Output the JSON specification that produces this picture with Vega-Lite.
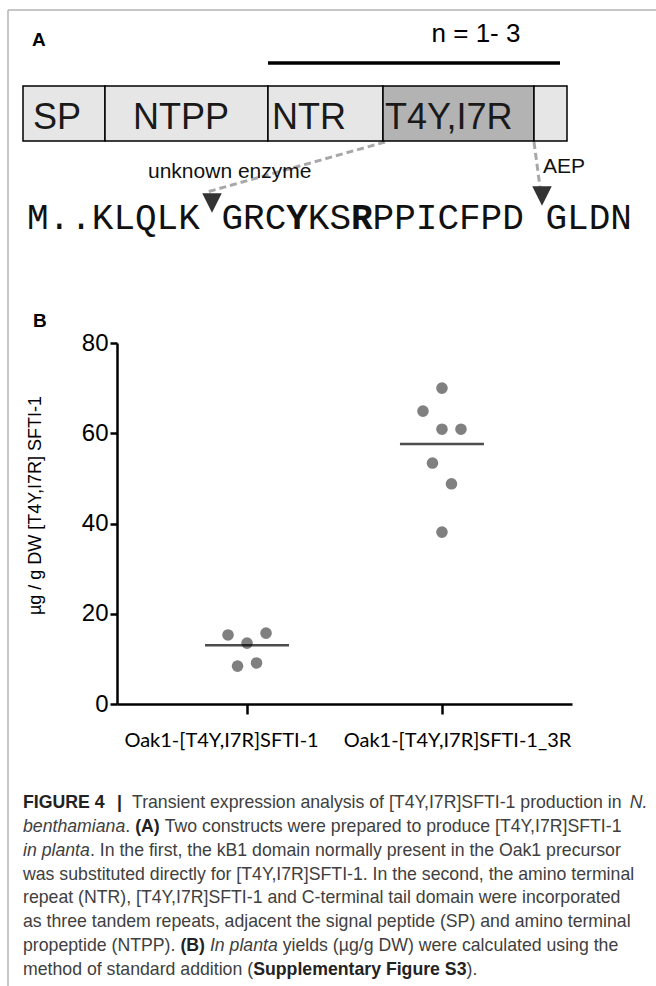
{
"$schema":"https://vega.github.io/schema/vega-lite/v6.json",
"width":656,"height":986,"padding":0,"autosize":{"type":"none"},
"background":"#ffffff",
"config":{"view":{"stroke":null},"font":"Liberation Sans"},
"layer":[
{"layer":[
 {"data":{"values":[{"x":8,"y":10,"x2":656,"y2":10},{"x":8,"y":10,"x2":8,"y2":986}]},
  "mark":{"type":"rule","color":"#b5b5b5","strokeWidth":1.5},
  "encoding":{"x":{"field":"x","type":"quantitative","scale":{"domain":[0,656],"range":[0,656],"nice":false,"zero":false},"axis":null},
   "y":{"field":"y","type":"quantitative","scale":{"domain":[0,986],"range":[0,986],"nice":false,"zero":false},"axis":null},
   "x2":{"field":"x2"},"y2":{"field":"y2"}}},
 {"data":{"values":[{"x":268,"y":63,"x2":560,"y2":63}]},
  "mark":{"type":"rule","color":"#000000","strokeWidth":3.5},
  "encoding":{"x":{"field":"x","type":"quantitative"},"y":{"field":"y","type":"quantitative"},"x2":{"field":"x2"},"y2":{"field":"y2"}}},
 {"data":{"values":[{"x":385,"y":142,"x2":207,"y2":192},{"x":534,"y":142,"x2":540,"y2":187}]},
  "mark":{"type":"rule","color":"#a8a8a8","strokeWidth":3,"strokeDash":[7,4]},
  "encoding":{"x":{"field":"x","type":"quantitative"},"y":{"field":"y","type":"quantitative"},"x2":{"field":"x2"},"y2":{"field":"y2"}}},
 {"data":{"values":[{"part":"SP","x":23,"x2":105},{"part":"NTPP","x":105,"x2":268},{"part":"NTR","x":268,"x2":383},{"part":"T4Y,I7R","x":383,"x2":534},{"part":"tail","x":534,"x2":567}]},
  "mark":{"type":"rect","stroke":"#000000","strokeWidth":1.5},
  "encoding":{"x":{"field":"x","type":"quantitative"},"x2":{"field":"x2"},
   "y":{"datum":86,"type":"quantitative"},"y2":{"datum":141},
   "fill":{"field":"part","type":"nominal","scale":{"domain":["SP","NTPP","NTR","T4Y,I7R","tail"],"range":["#e6e6e6","#e6e6e6","#e6e6e6","#b3b3b3","#e6e6e6"]},"legend":null}}},
 {"data":{"values":[{"label":"SP","x":33},{"label":"NTPP","x":133},{"label":"NTR","x":272},{"label":"T4Y,I7R","x":385}]},
  "mark":{"type":"text","align":"left","baseline":"middle","font":"Liberation Sans","fontSize":36,"color":"#1a1a1a"},
  "encoding":{"x":{"field":"x","type":"quantitative"},"y":{"datum":118,"type":"quantitative"},"text":{"field":"label"}}},
 {"data":{"values":[{"label":"A","x":32,"y":40},{"label":"B","x":33,"y":321}]},
  "mark":{"type":"text","align":"left","baseline":"middle","font":"Liberation Sans","fontSize":19,"fontWeight":"bold","color":"#000000"},
  "encoding":{"x":{"field":"x","type":"quantitative"},"y":{"field":"y","type":"quantitative"},"text":{"field":"label"}}},
 {"data":{"values":[{"label":"n = 1- 3","x":476,"y":34}]},
  "mark":{"type":"text","align":"center","baseline":"middle","font":"Liberation Sans","fontSize":26,"color":"#000000"},
  "encoding":{"x":{"field":"x","type":"quantitative"},"y":{"field":"y","type":"quantitative"},"text":{"field":"label"}}},
 {"data":{"values":[{"label":"unknown enzyme","x":148,"y":172},{"label":"AEP","x":543,"y":167}]},
  "mark":{"type":"text","align":"left","baseline":"middle","font":"Liberation Sans","fontSize":21,"color":"#111111"},
  "encoding":{"x":{"field":"x","type":"quantitative"},"y":{"field":"y","type":"quantitative"},"text":{"field":"label"}}},
 {"data":{"values":[{"site":"unknown enzyme","x":212,"y":203},{"site":"AEP","x":542,"y":196}]},
  "mark":{"type":"point","filled":true,"shape":"M-1,-1L1,-1L0,1Z","size":380,"color":"#333333","opacity":1},
  "encoding":{"x":{"field":"x","type":"quantitative"},"y":{"field":"y","type":"quantitative"}}},
 {"data":{"values":[{"seg":"M..KLQLK GRC","x":27,"emphasis":"plain"},{"seg":"Y","x":286.2,"emphasis":"bold"},{"seg":"KS","x":307.8,"emphasis":"plain"},{"seg":"R","x":351,"emphasis":"bold"},{"seg":"PPICFPD GLDN","x":372.6,"emphasis":"plain"}]},
  "transform":[{"filter":"datum.emphasis === 'plain'"}],
  "mark":{"type":"text","align":"left","baseline":"middle","font":"Liberation Mono","fontSize":36,"color":"#111111"},
  "encoding":{"x":{"field":"x","type":"quantitative"},"y":{"datum":218,"type":"quantitative"},"text":{"field":"seg"}}},
 {"data":{"values":[{"seg":"M..KLQLK GRC","x":27,"emphasis":"plain"},{"seg":"Y","x":286.2,"emphasis":"bold"},{"seg":"KS","x":307.8,"emphasis":"plain"},{"seg":"R","x":351,"emphasis":"bold"},{"seg":"PPICFPD GLDN","x":372.6,"emphasis":"plain"}]},
  "transform":[{"filter":"datum.emphasis === 'bold'"}],
  "mark":{"type":"text","align":"left","baseline":"middle","font":"Liberation Mono","fontSize":36,"fontWeight":"bold","color":"#111111"},
  "encoding":{"x":{"field":"x","type":"quantitative"},"y":{"datum":218,"type":"quantitative"},"text":{"field":"seg"}}},
 {"data":{"name":"caption"},
  "transform":[{"filter":"datum.emphasis === 'plain'"}],
  "mark":{"type":"text","align":"left","baseline":"middle","font":"Liberation Sans","fontSize":17.7,"color":"#404040"},
  "encoding":{"x":{"field":"x","type":"quantitative"},"y":{"field":"y","type":"quantitative"},"text":{"field":"text"}}},
 {"data":{"name":"caption"},
  "transform":[{"filter":"datum.emphasis === 'bold'"}],
  "mark":{"type":"text","align":"left","baseline":"middle","font":"Liberation Sans","fontSize":17.7,"fontWeight":"bold","color":"#222222"},
  "encoding":{"x":{"field":"x","type":"quantitative"},"y":{"field":"y","type":"quantitative"},"text":{"field":"text"}}},
 {"data":{"name":"caption"},
  "transform":[{"filter":"datum.emphasis === 'italic'"}],
  "mark":{"type":"text","align":"left","baseline":"middle","font":"Liberation Sans","fontSize":17.7,"fontStyle":"italic","color":"#404040"},
  "encoding":{"x":{"field":"x","type":"quantitative"},"y":{"field":"y","type":"quantitative"},"text":{"field":"text"}}}
]},
{"layer":[
 {"data":{"values":[
   {"construct":"Oak1-[T4Y,I7R]SFTI-1","yield":15.3,"jitter":-1},
   {"construct":"Oak1-[T4Y,I7R]SFTI-1","yield":15.7,"jitter":1},
   {"construct":"Oak1-[T4Y,I7R]SFTI-1","yield":13.5,"jitter":0},
   {"construct":"Oak1-[T4Y,I7R]SFTI-1","yield":8.4,"jitter":-0.5},
   {"construct":"Oak1-[T4Y,I7R]SFTI-1","yield":9.1,"jitter":0.5},
   {"construct":"Oak1-[T4Y,I7R]SFTI-1_3R","yield":70.0,"jitter":0},
   {"construct":"Oak1-[T4Y,I7R]SFTI-1_3R","yield":64.9,"jitter":-1},
   {"construct":"Oak1-[T4Y,I7R]SFTI-1_3R","yield":60.9,"jitter":0},
   {"construct":"Oak1-[T4Y,I7R]SFTI-1_3R","yield":60.9,"jitter":1},
   {"construct":"Oak1-[T4Y,I7R]SFTI-1_3R","yield":53.4,"jitter":-0.5},
   {"construct":"Oak1-[T4Y,I7R]SFTI-1_3R","yield":48.8,"jitter":0.5},
   {"construct":"Oak1-[T4Y,I7R]SFTI-1_3R","yield":38.1,"jitter":0}
  ]},
  "mark":{"type":"point","filled":true,"color":"#808080","opacity":1,"size":135},
  "encoding":{
   "x":{"field":"construct","type":"nominal","sort":["Oak1-[T4Y,I7R]SFTI-1","Oak1-[T4Y,I7R]SFTI-1_3R"],
     "scale":{"type":"point","range":[117,572],"padding":0.667},
     "axis":{"orient":"bottom","offset":-282,"title":null,"domainColor":"#000000","domainWidth":2.5,"tickColor":"#000000","tickWidth":2.5,"tickSize":10,"labelAngle":0,"labelFont":"Lato","labelFontSize":20,"labelColor":"#000000","labelPadding":16,"labelLimit":0,
       "labelOffset":{"condition":{"test":"datum.value === 'Oak1-[T4Y,I7R]SFTI-1'","value":-26},"value":15}}},
   "xOffset":{"field":"jitter","type":"quantitative","scale":{"domain":[-1,1],"range":[-19,19]}},
   "y":{"field":"yield","type":"quantitative","scale":{"domain":[0,80],"range":[704,343],"nice":false,"zero":false},
     "axis":{"orient":"left","offset":-117,"values":[0,20,40,60,80],"grid":false,"domainColor":"#000000","domainWidth":2.5,"tickColor":"#000000","tickWidth":2.5,"tickSize":7,"labelFont":"Liberation Sans","labelFontSize":24,"labelColor":"#000000","labelPadding":2,"labelFlush":false,"labelOverlap":false,
       "title":"µg / g DW [T4Y,I7R] SFTI-1","titleFont":"Liberation Sans","titleFontSize":18,"titleFontWeight":"normal","titleColor":"#000000","titleX":-82,"titleY":505,"titleBaseline":"middle"}}}},
 {"data":{"values":[{"construct":"Oak1-[T4Y,I7R]SFTI-1","mean":13.0},{"construct":"Oak1-[T4Y,I7R]SFTI-1_3R","mean":57.6}]},
  "mark":{"type":"tick","color":"#000000","thickness":2.5,"size":84,"orient":"horizontal"},
  "encoding":{"x":{"field":"construct","type":"nominal","sort":["Oak1-[T4Y,I7R]SFTI-1","Oak1-[T4Y,I7R]SFTI-1_3R"]},"y":{"field":"mean","type":"quantitative"}}}
]}
],
"resolve":{"scale":{"x":"independent","y":"independent"},"axis":{"x":"independent","y":"independent"}},
"datasets":{"caption":[
 {"y":803,"x":23,"text":"FIGURE 4","emphasis":"bold"},
 {"y":803,"x":117,"text":"|","emphasis":"bold"},
 {"y":803,"x":132,"text":"Transient expression analysis of [T4Y,I7R]SFTI-1 production in","emphasis":"plain"},
 {"y":803,"x":629.8,"text":"N.","emphasis":"italic"},
 {"y":827,"x":23,"text":"benthamiana","emphasis":"italic"},
 {"y":827,"x":125.3,"text":".","emphasis":"plain"},
 {"y":827,"x":135.2,"text":"(A)","emphasis":"bold"},
 {"y":827,"x":164.7,"text":"Two constructs were prepared to produce [T4Y,I7R]SFTI-1","emphasis":"plain"},
 {"y":851,"x":23,"text":"in planta","emphasis":"italic"},
 {"y":851,"x":89.9,"text":". In the first, the kB1 domain normally present in the Oak1 precursor","emphasis":"plain"},
 {"y":875,"x":23,"text":"was substituted directly for [T4Y,I7R]SFTI-1. In the second, the amino terminal","emphasis":"plain"},
 {"y":898,"x":23,"text":"repeat (NTR), [T4Y,I7R]SFTI-1 and C-terminal tail domain were incorporated","emphasis":"plain"},
 {"y":922,"x":23,"text":"as three tandem repeats, adjacent the signal peptide (SP) and amino terminal","emphasis":"plain"},
 {"y":946,"x":23,"text":"propeptide (NTPP).","emphasis":"plain"},
 {"y":946,"x":180.4,"text":"(B)","emphasis":"bold"},
 {"y":946,"x":209.9,"text":"In planta","emphasis":"italic"},
 {"y":946,"x":282.7,"text":"yields (µg/g DW) were calculated using the","emphasis":"plain"},
 {"y":970,"x":23,"text":"method of standard addition (","emphasis":"plain"},
 {"y":970,"x":253.2,"text":"Supplementary Figure S3","emphasis":"bold"},
 {"y":970,"x":466.6,"text":").","emphasis":"plain"}
]}
}
